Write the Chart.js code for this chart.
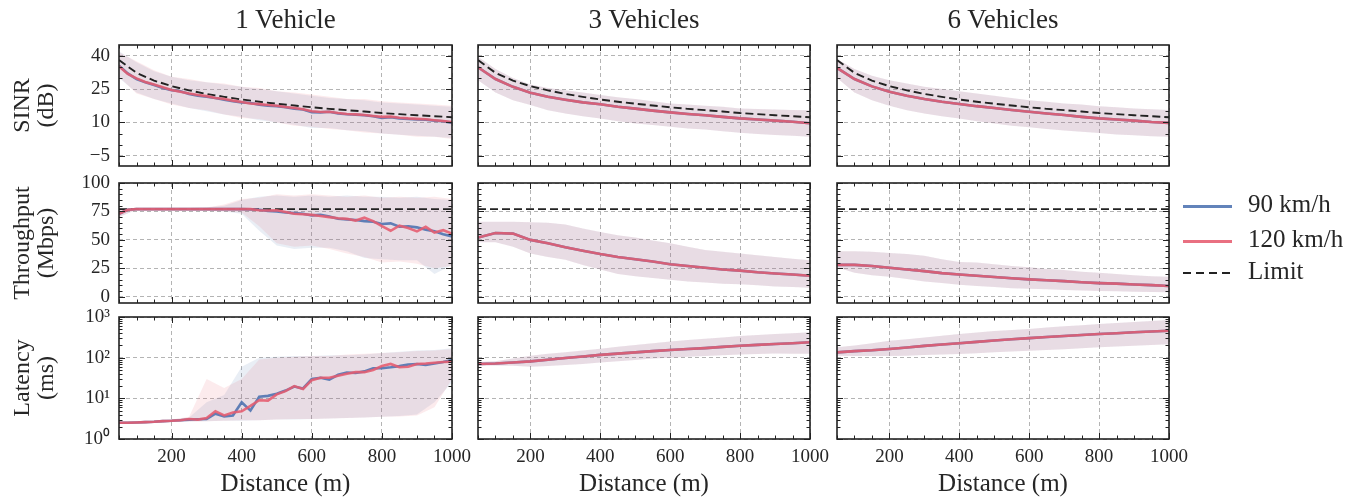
<!DOCTYPE html>
<html>
<head>
<meta charset="utf-8">
<script src="https://cdn.jsdelivr.net/npm/chart.js@4.4.1/dist/chart.umd.min.js"></script>
<style>
  body { margin: 0; background: #fff; }
  #wrap { position: relative; width: 1364px; height: 500px; font-family: "Liberation Serif", serif; color: #262626; }
  #wrap canvas { position: absolute; }
  .title { position: absolute; top: 4px; text-align: center; font-size: 27px; line-height: 30px; }
  .item { position: absolute; left: 1183px; height: 28px; font-size: 25px; line-height: 28px; white-space: nowrap; }
  .item span.sw { display: inline-block; width: 49px; height: 3px; vertical-align: middle; margin-right: 16px; }
</style>
</head>
<body>
<div id="wrap"></div>
<script>
// distances (m)
const distFine = [50,75,100,125,150,175,200,225,250,275,300,325,350,375,400,425,450,475,500,525,550,575,600,625,650,675,700,725,750,775,800,825,850,875,900,925,950,975,1000];
const distCoarse = [50,100,150,200,250,300,350,400,450,500,550,600,650,700,750,800,850,900,950,1000];

const columnTitles = ["1 Vehicle", "3 Vehicles", "6 Vehicles"];
const seriesNames = ["90 km/h", "120 km/h", "Limit"];
const rowTitles = [["SINR", "(dB)"], ["Throughput", "(Mbps)"], ["Latency", "(ms)"]];
const xTitle = "Distance (m)";

// tick labels
const xTicks = [200, 400, 600, 800, 1000];
const sinrTicks = [-5, 10, 25, 40];
const rateTicks = [0, 25, 50, 75, 100];
const latTicks = [1, 10, 100, 1000];
const latTickLabels = ["10\u2070", "10\u00b9", "10\u00b2", "10\u00b3"];

// limits
const sinrLimit = [38,32.3,28.8,26.3,24.4,22.8,21.5,20.3,19.3,18.4,17.6,16.8,16.1,15.5,14.9,14.2,13.7,13.2,12.8,12.3];
const rateLimit = [77, 77];
const rateLimitDist = [50, 1000];

// SINR, 1 vehicle
const sinr1v90 = [35.5,32,29.5,28,26.8,25.5,24.5,24,22.8,22,21.5,21,20.2,19.5,19,18.7,18,17.5,17.3,16.8,16.2,15.8,14.6,14.5,14.8,14,13.7,13.5,13.2,12.8,12,12.3,11.8,11.5,11.3,11.2,10.8,10.5,9.8];
const sinr1v120 = [35.2,31.8,29.8,28.2,27,25.8,24.6,23.8,23,22.3,21.8,21,20.5,19.8,19.2,18.5,18.2,17.8,17.5,16.9,16.5,15.9,15,14.7,14.8,14.2,13.8,13.6,13.3,12.9,12.5,12.6,12.1,11.8,11.6,11.4,11,10.6,10.1];
const sinr1vHi90 = [42,37,33,30.5,29,28,27,26,25,24,23,22,21,20.5,20,19,18.5,18,17.5,17];
const sinr1vLo90 = [30,23.5,20.5,18.5,16.5,15,13.5,12.5,11,10,9,7.5,7.5,6.5,6,5,4.5,4,3.5,3];
const sinr1vHi120 = [41.5,37.5,33.5,30.5,29.5,28,27.5,26,25.5,24,23.5,22.5,21.5,20.5,20.5,19.5,19,18.5,18,17.5];
const sinr1vLo120 = [30.5,23,20.5,18,16.5,15.5,13.5,12,11.5,10,8.5,8,7,6.5,5.5,5,4.5,3.5,3.5,2.5];
// SINR, 3 vehicles
const sinr3v = [34.8,29.5,26,23.3,21.5,20.2,19,18.2,17,16.2,15.3,14.5,13.8,13.2,12.5,11.8,11.3,10.8,10.3,9.6];
const sinr3vHi = [39.5,34,30,27,25.5,24.5,23.5,22.3,21.3,20.5,19.5,18.5,18,17.5,17,16.3,16,15.8,15.6,15.5];
const sinr3vLo = [29,23.5,20,17.8,15.5,14,12.8,11.8,10.5,9.5,8.8,8,7.3,6.8,6,5.4,4.8,4.3,4,3.6];
// SINR, 6 vehicles
const sinr6v = [34.5,29.5,26.2,23.8,22,20.5,19.3,18.3,17.3,16.5,15.6,14.8,14,13.3,12.5,11.8,11.3,10.8,10.2,9.8];
const sinr6vHi = [38.5,34,31,29,27.5,26,25,24,23,22,21,20,19.3,18.5,18,17.3,16.8,16.3,15.9,15.6];
const sinr6vLo = [30,23.5,20,17.5,15.5,14,12.8,11.8,10.5,9.5,8.5,7.8,7,6.4,5.8,5.2,4.6,4.2,3.8,3.5];

// Throughput, 1 vehicle
const rate1v90 = [73,76.5,77,77,77,77,77,77,77,77,77,77,77,77,77,76.8,76.5,75.5,75,74,73.5,73,71.5,72,70.5,68.5,68,67.5,66.5,66,64,64.5,61.5,62,61,59,57.5,55,53];
const rate1v120 = [73,76.5,77,77,77,77,77,77,77,77,77,77,77,77,77,77,76,75.8,76,74.5,73,72.5,72,71,70,69,68.5,67,69.5,66.5,62,58,62.5,60.5,57.5,61.5,56.5,58.5,55.5];
const rate1vHi90 = [77.5,77.5,77.5,77.5,78,78.5,80,85,88,89,88,89,88,89,88,88,87,88,86,85];
const rate1vLo90 = [70,76.5,76.5,76.5,76,75.5,75,73,58,45,42,43,43,40,34,33,32,32,20,28];
const rate1vHi120 = [77.5,77.5,77.5,77.5,78,78.5,81,86,87,90,89,90,89,88,89,87,88,87,88,86];
const rate1vLo120 = [70,76.5,76.5,76.5,76,75.5,75,74,62,47,44,45,42,38,35,30,31,29,25,27];
// Throughput, 3 vehicles
const rate3v = [52,56,55.5,50,47,43.5,40.5,37.5,35,33,31,28.5,27,25.5,24,23,21.5,20.5,19.5,18.5];
const rate3vHi = [66,66,66,65.5,65,63.5,60,57,54,52,49.5,47,44,41,39.5,38,36.5,35,33.5,32];
const rate3vLo = [48,48,44,38,35,32.5,28,24,20,18,16.5,15,13.5,12.5,11.5,11,10,9,8.5,8];
// Throughput, 6 vehicles
const rate6v = [28,28,27,25.5,24,22.5,20.8,19.5,18.5,17.3,16.3,15.3,14.5,13.7,12.8,12,11.5,10.8,10.2,9.5];
const rate6vHi = [40,40,39.5,38.5,37.5,36,33,30.5,30,28.5,27,26,24.5,23.5,22,21,20,19,18,17.5];
const rate6vLo = [26,21,19,17.5,15.5,13.5,12,10.5,9.5,8.5,7.5,7,6.5,6,5.5,5,4.8,4.5,4.2,4];

// Latency, 1 vehicle
const lat1v90 = [2.5,2.5,2.55,2.6,2.65,2.75,2.8,2.9,3,3.05,3.1,4.2,3.6,3.8,8,5,11,11.5,13,15.5,19.5,17.5,30,32,29,38,43,42,46,55,55,58,62,68,70,66,72,78,88];
const lat1v120 = [2.5,2.5,2.55,2.6,2.65,2.75,2.8,2.9,3.1,3,3.3,4.8,3.8,4.5,4.8,6.5,9,8.8,12.5,15,20,17,28,32,32,36,40,44,44,50,62,70,58,60,70,72,75,78,80];
const lat1vHi90 = [2.6,2.7,2.8,3,3.4,8,12,60,100,105,110,110,115,115,120,130,140,150,155,170];
const lat1vLo90 = [2.4,2.45,2.5,2.6,2.7,2.75,2.8,2.8,2.9,3,3,3.1,3.2,3.3,3.4,3.5,3.7,4,8,25];
const lat1vHi120 = [2.6,2.7,2.8,3,3.5,30,18,30,90,100,105,110,110,120,125,130,135,145,150,160];
const lat1vLo120 = [2.4,2.45,2.5,2.6,2.7,2.75,2.8,2.9,2.9,3,3.1,3.1,3.2,3.3,3.4,3.5,3.6,3.8,6,30];
// Latency, 3 vehicles
const lat3v = [70,72,76,81,89,98,107,117,126,135,145,155,163,172,184,196,206,216,227,240];
const lat3vHi = [78,82,95,112,125,135,150,165,185,205,225,250,270,290,315,340,360,380,400,420];
const lat3vLo = [63,64,63,60,62,66,70,76,82,88,95,100,105,110,115,120,123,126,125,125];
// Latency, 6 vehicles
const lat6v = [135,145,152,163,178,195,210,226,245,265,283,303,322,342,362,381,400,420,440,460];
const lat6vHi = [180,200,225,260,285,315,345,380,415,450,480,510,550,590,630,670,710,750,800,840];
const lat6vLo = [112,110,110,110,112,116,120,123,128,135,142,148,155,162,170,180,188,196,205,215];

// [mean x, mean 90, mean 120, lo90, hi90, lo120, hi120] per row / column
const panels = [
  [[distFine, sinr1v90, sinr1v120, sinr1vLo90, sinr1vHi90, sinr1vLo120, sinr1vHi120],
   [distCoarse, sinr3v, sinr3v, sinr3vLo, sinr3vHi, sinr3vLo, sinr3vHi],
   [distCoarse, sinr6v, sinr6v, sinr6vLo, sinr6vHi, sinr6vLo, sinr6vHi]],
  [[distFine, rate1v90, rate1v120, rate1vLo90, rate1vHi90, rate1vLo120, rate1vHi120],
   [distCoarse, rate3v, rate3v, rate3vLo, rate3vHi, rate3vLo, rate3vHi],
   [distCoarse, rate6v, rate6v, rate6vLo, rate6vHi, rate6vLo, rate6vHi]],
  [[distFine, lat1v90, lat1v120, lat1vLo90, lat1vHi90, lat1vLo120, lat1vHi120],
   [distCoarse, lat3v, lat3v, lat3vLo, lat3vHi, lat3vLo, lat3vHi],
   [distCoarse, lat6v, lat6v, lat6vLo, lat6vHi, lat6vLo, lat6vHi]]
];
const limits = [[distCoarse, sinrLimit], [rateLimitDist, rateLimit], null];

const BLUE = "rgba(76,114,176,0.88)", RED = "rgba(230,92,112,0.88)";
const BLUE_BAND = "rgba(76,114,176,0.12)", RED_BAND = "rgba(228,90,110,0.12)";

// plot-area placement
const cols = [[119, 452], [478, 810], [837, 1169]];
const rows = [[45, 166], [183, 303], [317, 439]];

function steps(a, b, s) { const out = []; for (let v = a; v <= b + 1e-9; v += s) out.push(v); return out; }
const logMinor = [];
[1, 10, 100].forEach(d => { for (let k = 1; k < 10; k++) logMinor.push(d * k); });
logMinor.push(1000);

const yAxes = [
  { type: "linear", min: -9.6, max: 44.8, major: sinrTicks, all: steps(-5, 40, 5) },
  { type: "linear", min: -5.5, max: 100, major: rateTicks, all: steps(0, 100, 5) },
  { type: "logarithmic", min: 1, max: 1000, major: latTicks, all: logMinor }
];

Chart.defaults.font.family = "'Liberation Serif', serif";
Chart.defaults.color = "#262626";

const xy = (xs, ys) => xs.map((x, i) => ({ x: x, y: ys[i] }));

// inward ticks on all four sides + frame
const axisFrame = {
  id: "axisFrame",
  afterDraw(chart) {
    const { ctx, chartArea: a, scales: { x, y } } = chart;
    ctx.save();
    ctx.strokeStyle = "#222";
    ctx.lineWidth = 1;
    ctx.beginPath();
    x.ticks.forEach(t => {
      const p = Math.round(x.getPixelForValue(t.value)) + 0.5, len = t.major ? 6 : 3.5;
      ctx.moveTo(p, a.bottom); ctx.lineTo(p, a.bottom - len);
      ctx.moveTo(p, a.top); ctx.lineTo(p, a.top + len);
    });
    y.ticks.forEach(t => {
      const p = Math.round(y.getPixelForValue(t.value)) + 0.5, len = t.major ? 6 : 3.5;
      ctx.moveTo(a.left, p); ctx.lineTo(a.left + len, p);
      ctx.moveTo(a.right, p); ctx.lineTo(a.right - len, p);
    });
    ctx.stroke();
    ctx.lineWidth = 1.6;
    ctx.strokeRect(a.left, a.top, a.right - a.left, a.bottom - a.top);
    ctx.restore();
  }
};

const wrap = document.getElementById("wrap");

function makeChart(r, c) {
  const [L, R] = cols[c], [T, B] = rows[r];
  const first = c === 0, last = r === 2;
  const left = first ? 0 : L - 10, top = T - 12;
  const cv = document.createElement("canvas");
  cv.width = R - left + 30;
  cv.height = B - top + (last ? 61 : 12);
  cv.style.left = left + "px";
  cv.style.top = top + "px";
  wrap.appendChild(cv);

  const [mx, m90, m120, lo90, hi90, lo120, hi120] = panels[r][c];
  const line = (label, data, color, order) => ({ label, data, borderColor: color, borderWidth: 2.6, pointRadius: 0, tension: 0, fill: false, order });
  const edge = (data, order, fill, bg) => ({ data, borderWidth: 0, borderColor: "transparent", pointRadius: 0, tension: 0, fill, backgroundColor: bg, order });
  const datasets = [
    line(seriesNames[1], xy(mx, m120), RED, 0),
    line(seriesNames[0], xy(mx, m90), BLUE, 1),
    edge(xy(distCoarse, lo90), 4, false),
    edge(xy(distCoarse, hi90), 4, "-1", BLUE_BAND),
    edge(xy(distCoarse, lo120), 3, false),
    edge(xy(distCoarse, hi120), 3, "-1", RED_BAND)
  ];
  if (limits[r]) {
    datasets.push({ label: seriesNames[2], data: xy(limits[r][0], limits[r][1]), borderColor: "#222", borderWidth: 1.9,
      borderDash: [8, 4], pointRadius: 0, tension: 0, fill: false, order: 2 });
  }

  const ya = yAxes[r];
  const gridColor = ctx => (ctx.tick && ctx.tick.major) ? "#b4b4b4" : "rgba(0,0,0,0)";

  new Chart(cv, {
    type: "line",
    data: { datasets },
    options: {
      responsive: false,
      animation: false,
      devicePixelRatio: 1,
      layout: { autoPadding: false, padding: { left: first ? 0 : 10, right: 30, top: 12, bottom: last ? 0 : 12 } },
      plugins: { legend: { display: false }, tooltip: { enabled: false } },
      scales: {
        x: {
          type: "linear", min: 50, max: 1000,
          afterBuildTicks: s => { s.ticks = steps(50, 1000, 50).map(v => ({ value: v, major: xTicks.includes(v) })); },
          afterFit: s => { s.height = last ? 61 : 0; s.paddingLeft = 0; s.paddingRight = 0; },
          grid: { color: gridColor, lineWidth: 1, drawTicks: false },
          border: { display: false, dash: [4, 3] },
          ticks: { display: last, autoSkip: false, maxRotation: 0, padding: 7, font: { size: 19 },
            callback: (v, i, t) => t[i].major ? String(v) : "" },
          title: { display: last, text: xTitle, font: { size: 25 }, padding: { top: 0, bottom: 1 } }
        },
        y: {
          type: ya.type, min: ya.min, max: ya.max,
          afterBuildTicks: s => { s.ticks = ya.all.map(v => ({ value: v, major: ya.major.includes(v) })); },
          afterFit: s => { s.width = first ? 119 : 0; s.paddingTop = 0; s.paddingBottom = 0; },
          grid: { color: gridColor, lineWidth: 1, drawTicks: false },
          border: { display: false, dash: [4, 3] },
          ticks: { display: first, autoSkip: false, padding: 9, font: { size: 19 },
            callback: (v, i, t) => {
              if (!t[i].major) return "";
              if (r === 2) return latTickLabels[latTicks.indexOf(v)];
              return v < 0 ? "\u2212" + Math.abs(v) : String(v);
            } },
          title: { display: first, text: rowTitles[r], font: { size: 24, lineHeight: 1.0 }, padding: { top: 11, bottom: 0 } }
        }
      }
    },
    plugins: [axisFrame]
  });
}

for (let r = 0; r < 3; r++) for (let c = 0; c < 3; c++) makeChart(r, c);

// column titles
columnTitles.forEach((t, c) => {
  const d = document.createElement("div");
  d.className = "title";
  d.style.left = cols[c][0] + "px";
  d.style.width = (cols[c][1] - cols[c][0]) + "px";
  d.textContent = t;
  wrap.appendChild(d);
});

// legend
const legendRows = [
  { name: seriesNames[0], y: 204, bg: BLUE },
  { name: seriesNames[1], y: 239, bg: RED },
  { name: seriesNames[2], y: 271, bg: "repeating-linear-gradient(90deg, #222 0 8px, transparent 8px 13px)" }
];
legendRows.forEach(it => {
  const d = document.createElement("div");
  d.className = "item";
  d.style.top = (it.y - 14) + "px";
  const sw = document.createElement("span");
  sw.className = "sw";
  sw.style.background = it.bg;
  if (it.name === seriesNames[2]) sw.style.height = "2px";
  d.appendChild(sw);
  d.appendChild(document.createTextNode(it.name));
  wrap.appendChild(d);
});
</script>
</body>
</html>
